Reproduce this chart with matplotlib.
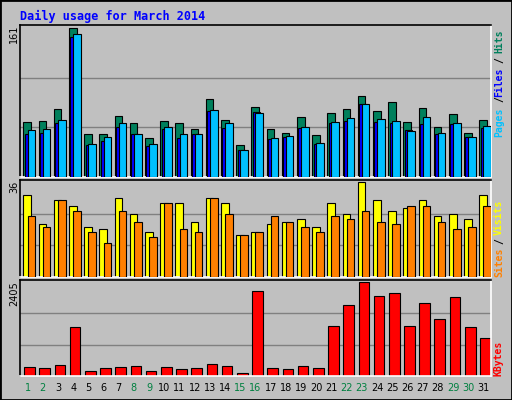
import matplotlib
matplotlib.use("Agg")
import matplotlib.pyplot as plt
import numpy as np

days = list(range(1, 32))
weekend = [1, 2, 8, 9, 15, 16, 22, 23, 29, 30]
hits = [59,60,74,161,46,46,66,58,42,60,58,52,84,62,35,76,52,47,65,45,69,74,88,71,81,59,75,54,68,48,62]
files = [46,47,58,151,35,39,54,46,33,52,42,46,71,53,29,70,41,43,53,36,58,61,79,59,58,51,57,46,57,43,53]
pages = [51,52,62,154,36,43,58,46,36,54,46,46,72,58,29,69,42,44,54,37,59,64,79,63,60,50,65,48,58,43,55]
visits = [31,20,29,27,19,18,30,24,17,28,28,21,30,28,16,17,20,21,22,19,28,24,36,29,25,26,29,23,24,22,31]
sites = [23,19,29,25,17,13,25,21,15,28,18,17,30,24,16,17,23,21,19,17,23,22,25,21,20,27,27,21,18,19,27]
kbytes = [220,193,272,1247,140,193,220,246,140,220,167,193,299,246,88,2169,193,167,246,193,1273,1826,2405,2037,2116,1273,1853,1458,2011,1247,983]

BG = "#C0C0C0"
fig = plt.figure(figsize=(5.12, 4.0), dpi=100, facecolor=BG)
mono = "DejaVu Sans Mono"
x = np.array(days)

def panel(rect, ymax):
    ax = fig.add_axes(rect, facecolor=BG)
    ax.set_xlim(0.5, 31.5)
    ax.set_ylim(0, ymax * 1.02)
    for g in (ymax / 3, 2 * ymax / 3):
        ax.axhline(g, color="#808080", lw=1, zorder=0)
    ax.set_xticks([]); ax.set_yticks([])
    ax.spines["top"].set_color("black"); ax.spines["left"].set_color("black")
    ax.spines["bottom"].set_color("white"); ax.spines["right"].set_color("white")
    for s in ax.spines.values():
        s.set_linewidth(1.2)
    return ax

ec = dict(edgecolor="black", linewidth=0.8, align="edge")
ax1 = panel([0.039, 0.5575, 0.92, 0.38], max(hits))
ax1.bar(x - 0.27, hits, 0.5, color="#00805C", zorder=2, **ec)
ax1.bar(x - 0.18, files, 0.5, color="#0000FF", zorder=3, **ec)
ax1.bar(x + 0.0, pages, 0.5, color="#00C0FF", zorder=4, **ec)

ax2 = panel([0.039, 0.3075, 0.92, 0.2425], max(visits))
ax2.bar(x - 0.27, visits, 0.5, color="#FFFF00", zorder=2, **ec)
ax2.bar(x + 0.0, sites, 0.5, color="#FF8000", zorder=3, **ec)

ax3 = panel([0.039, 0.06, 0.92, 0.24], max(kbytes))
ax3.bar(x - 0.22, kbytes, 0.7, color="#FF0000", zorder=2, **ec)

for d in days:
    ax3.text(d, -0.07, str(d), transform=ax3.get_xaxis_transform(), ha="center", va="top",
             fontsize=7, family="DejaVu Sans", color="#008040" if d in weekend else "black")

fig.text(20/512, 1 - 16/400, "Daily usage for March 2014", color="#0000FF", fontsize=8.5,
         family=mono, fontweight="bold", va="center")

def vt(ypix, s, c, xpix=499):
    fig.text(xpix/512, 1 - ypix/400, s, color=c, rotation=90, fontsize=7, family=mono,
             fontweight="bold", ha="center", va="center")

vt(122, "Pages", "#00C0FF"); vt(99, "/", "black"); vt(82, "Files", "#0000FF")
vt(60, "/", "black"); vt(41, "Hits", "#00805C")
vt(262, "Sites", "#FF8000"); vt(241, "/", "black"); vt(217, "Visits", "#FFFF00")
vt(358, "KBytes", "#FF0000")

def lt(ypix, s):
    fig.text(14/512, 1 - ypix/400, s, rotation=90, fontsize=7, family="DejaVu Sans",
             ha="center", va="top")
lt(25, str(max(hits))); lt(181, str(max(visits))); lt(281, str(max(kbytes)))

fig.patches.append(plt.Rectangle((0, 0), 1, 1, transform=fig.transFigure, fill=False,
                                 edgecolor="black", linewidth=2))
fig.savefig("out.png", dpi=100, facecolor=BG)
